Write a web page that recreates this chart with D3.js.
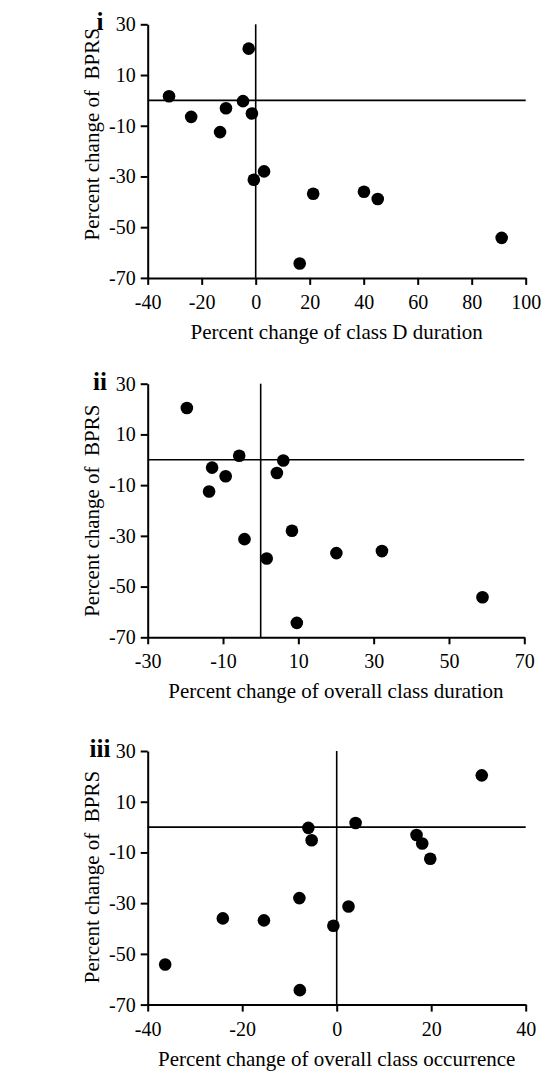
<!DOCTYPE html>
<html>
<head>
<meta charset="utf-8">
<script src="https://cdn.jsdelivr.net/npm/d3@7.9.0/dist/d3.min.js"></script>
<style>
  body { margin: 0; background: #fff; }
</style>
</head>
<body>
<svg id="chart" width="552" height="1071"></svg>
<script>
// percent change of BPRS per patient, same patient order in every panel
const bprsChange = [20.4, 1.6, -0.3, -3.1, -5.2, -6.5, -12.5, -28, -31.3, -36, -36.8, -38.9, -54.2, -64.3];
const classDDuration = [-2.6, -32.1, -4.7, -11, -1.4, -23.9, -13.2, 3.1, -0.7, 40.1, 21.3, 45.2, 91.1, 16.3];
const overallDuration = [-19.6, -5.7, 6.0, -12.9, 4.3, -9.3, -13.7, 8.3, -4.3, 32.2, 20.1, 1.6, 58.9, 9.6];
const overallOccurrence = [30.7, 4.0, -6.0, 16.9, -5.3, 18.1, 19.8, -7.9, 2.5, -24.1, -15.4, -0.7, -36.3, -7.8];

const yTicks = [30, 10, -10, -30, -50, -70];
const xTicksI = [-40, -20, 0, 20, 40, 60, 80, 100];
const xTicksII = [-30, -10, 10, 30, 50, 70];
const xTicksIII = [-40, -20, 0, 20, 40];

const panelLabels = ['i', 'ii', 'iii'];
const xTitles = [
  'Percent change of class D duration',
  'Percent change of overall class duration',
  'Percent change of overall class occurrence'
];
const yTitle = 'Percent change of\u00a0\u00a0BPRS';

const panels = [
  { label: panelLabels[0], xs: classDDuration, ticks: xTicksI, title: xTitles[0], top: 24.3, width: 378, yTitleMid: 110 },
  { label: panelLabels[1], xs: overallDuration, ticks: xTicksII, title: xTitles[1], top: 383.7, width: 376.6, yTitleMid: 127 },
  { label: panelLabels[2], xs: overallOccurrence, ticks: xTicksIII, title: xTitles[2], top: 751, width: 378, yTitleMid: 126 }
];

const serif = '"Liberation Serif", "Times New Roman", Times, "DejaVu Serif", serif';
const left = 147.7;
const plotH = 253.6;
const svg = d3.select('#chart').attr('font-family', serif);

panels.forEach((p) => {
  const g = svg.append('g').attr('transform', `translate(${left},${p.top})`);

  const x = d3.scaleLinear()
    .domain([p.ticks[0], p.ticks[p.ticks.length - 1]])
    .range([0, p.width]);
  const y = d3.scaleLinear()
    .domain([-70, 30])
    .range([plotH, 0]);

  // zero reference lines
  g.append('line')
    .attr('x1', 0).attr('x2', p.width)
    .attr('y1', y(0)).attr('y2', y(0))
    .attr('stroke', '#000').attr('stroke-width', 1.6);
  g.append('line')
    .attr('x1', x(0)).attr('x2', x(0))
    .attr('y1', y(30)).attr('y2', y(-70))
    .attr('stroke', '#000').attr('stroke-width', 1.6);

  const yAxis = g.append('g')
    .call(d3.axisLeft(y).tickValues(yTicks).tickSize(7).tickSizeOuter(0)
      .tickPadding(5).tickFormat((d) => String(d)));
  const xAxis = g.append('g')
    .attr('transform', `translate(0,${plotH})`)
    .call(d3.axisBottom(x).tickValues(p.ticks).tickSize(7).tickSizeOuter(0)
      .tickPadding(10).tickFormat((d) => String(d)));

  [yAxis, xAxis].forEach((ax) => {
    ax.attr('font-family', serif).attr('font-size', 20);
    ax.select('.domain').attr('stroke-width', 2);
    ax.selectAll('.tick line').attr('stroke-width', 2);
    ax.selectAll('text').attr('fill', '#000');
  });

  g.selectAll('circle')
    .data(p.xs.map((v, i) => [v, bprsChange[i]]))
    .join('circle')
    .attr('cx', (d) => x(d[0]))
    .attr('cy', (d) => y(d[1]))
    .attr('r', 6.3)
    .attr('fill', '#000');

  // axis titles
  g.append('text')
    .attr('x', p.width / 2)
    .attr('y', plotH + 61)
    .attr('text-anchor', 'middle')
    .attr('font-family', serif)
    .attr('font-size', 21)
    .text(p.title);

  g.append('text')
    .attr('transform', `translate(${99 - left},${p.yTitleMid}) rotate(-90)`)
    .attr('text-anchor', 'middle')
    .attr('font-family', serif)
    .attr('font-size', 21)
    .text(yTitle);

  // panel label
  g.append('text')
    .attr('x', 100 - left)
    .attr('y', 6)
    .attr('text-anchor', 'middle')
    .attr('font-family', serif)
    .attr('font-size', 25)
    .attr('font-weight', 'bold')
    .text(p.label);
});
</script>
</body>
</html>
